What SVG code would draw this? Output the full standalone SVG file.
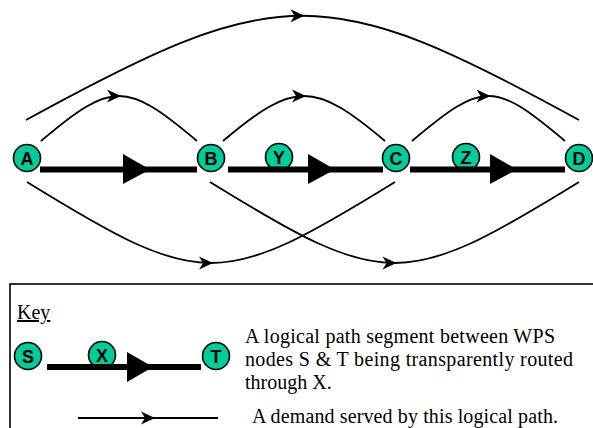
<svg xmlns="http://www.w3.org/2000/svg" width="593" height="428" viewBox="0 0 593 428">
<style>
.node circle{fill:#00cc99;stroke:#000;stroke-width:1.6}
.node text{font-family:"Liberation Sans",Arial,sans-serif;font-weight:bold;font-size:18px;text-anchor:middle;fill:#000}
.thick{stroke:#000;stroke-width:6;fill:none}
.tri{fill:#000}
.demand{stroke:#000;stroke-width:1.8;fill:none;marker-mid:url(#ah)}
.key{font-family:"Liberation Serif","Times New Roman",serif;font-size:20px;fill:#000}
</style>
<defs>
<marker id="ah" markerUnits="userSpaceOnUse" markerWidth="20" markerHeight="20" viewBox="-16 -8 20 16" refX="-2" refY="0" orient="auto" overflow="visible">
<path d="M0,0 L-14,-6.5 L-10,0 L-14,6.5 Z" fill="#000"/>
</marker>
</defs>
<rect x="10" y="284" width="600" height="200" fill="#fff" stroke="#000" stroke-width="1.6"/>
<g id="node-A" class="node"><circle cx="27" cy="158" r="13.5"/><text x="27" y="164.5">A</text></g>
<g id="node-B" class="node"><circle cx="211" cy="158" r="13.5"/><text x="211" y="164.5">B</text></g>
<g id="node-Y" class="node"><circle cx="279" cy="157" r="13.5"/><text x="279" y="163.5">Y</text></g>
<g id="node-C" class="node"><circle cx="396" cy="158" r="13.5"/><text x="396" y="164.5">C</text></g>
<g id="node-Z" class="node"><circle cx="466" cy="157" r="13.5"/><text x="466" y="163.5">Z</text></g>
<g id="node-D" class="node"><circle cx="579" cy="158" r="13.5"/><text x="579" y="164.5">D</text></g>
<g id="key-S" class="node"><circle cx="28" cy="356" r="13.5"/><text x="28" y="362.5">S</text></g>
<g id="key-X" class="node"><circle cx="102" cy="355" r="13.5"/><text x="102" y="361.5">X</text></g>
<g id="key-T" class="node"><circle cx="216" cy="356" r="13.5"/><text x="216" y="362.5">T</text></g>
<g id="connectors">
<line class="thick" x1="40" y1="169.5" x2="197" y2="169.5"/>
<polygon class="tri" points="123,154 123,184 150,169.5"/>
<line class="thick" x1="228" y1="169.5" x2="383" y2="169.5"/>
<polygon class="tri" points="308,154 308,184 335,169.5"/>
<line class="thick" x1="410" y1="169.5" x2="565" y2="169.5"/>
<polygon class="tri" points="490,154 490,184 517,169.5"/>
<path class="demand" d="M26,120 C152.5,50.5 227.5,15.75 302.5,15.75 C377.5,15.75 452.5,50.5 579,120"/>
<path class="demand" d="M41,141 C76.5,111 97.75,96 119,96 C140.25,96 161.5,111 197,141"/>
<path class="demand" d="M223,141 C258.5,111 281.25,96 304,96 C326.75,96 349.5,111 385,141"/>
<path class="demand" d="M412,141 C447.5,111 468,96 488.5,96 C509,96 529.5,111 565,141"/>
<path class="demand" d="M27,182 C114.5,236 162.75,263 211,263 C259.25,263 307.5,236 395,182"/>
<path class="demand" d="M210,182 C297.5,236 346,263 394.5,263 C443,263 491.5,236 579,182"/>
<line class="thick" x1="47" y1="367" x2="201" y2="367"/>
<polygon class="tri" points="127,352 127,382 153,367"/>
<path class="demand" d="M78,418 L153,418 L218,418"/>
</g>
<g id="key-text" class="key">
<text x="17" y="319" text-decoration="underline">Key</text>
<text x="245" y="343" textLength="310" lengthAdjust="spacing">A logical path segment between WPS</text>
<text x="245" y="366" textLength="328" lengthAdjust="spacing">nodes S &amp; T being transparently routed</text>
<text x="245" y="389">through X.</text>
<text x="252" y="423" textLength="306" lengthAdjust="spacing">A demand served by this logical path.</text>
</g>
</svg>
